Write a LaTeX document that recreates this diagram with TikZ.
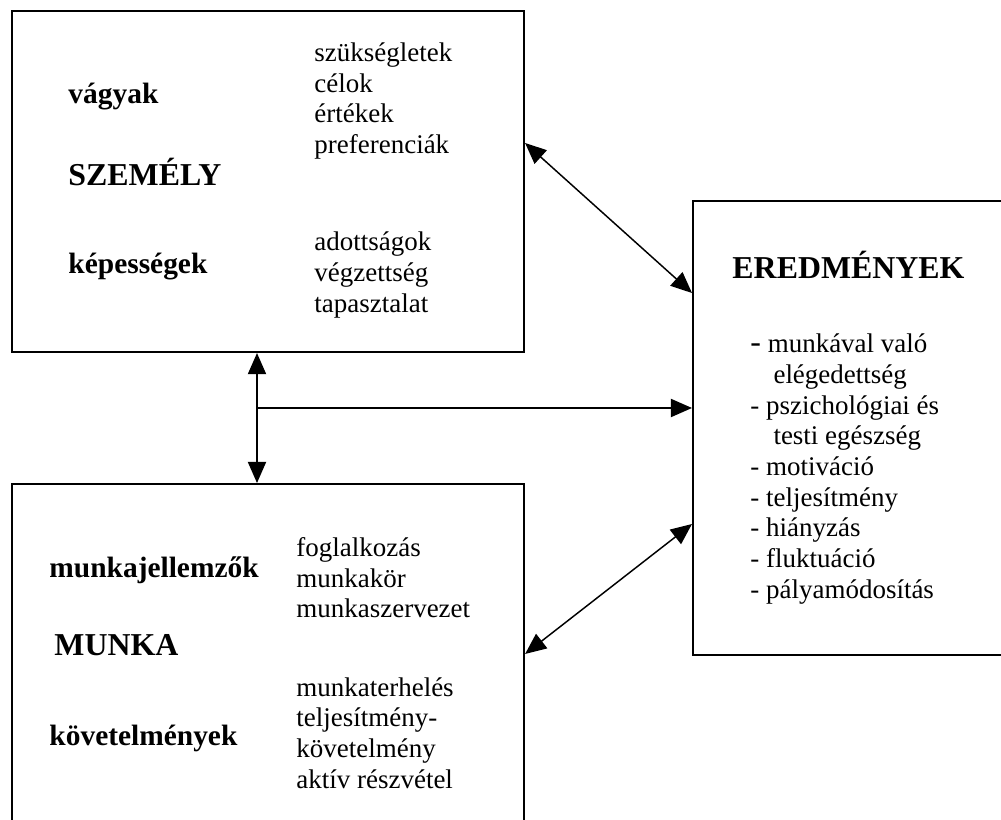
\documentclass[tikz,border=0pt]{standalone}
\usepackage{fontspec}
\setmainfont{Liberation Serif}
\usetikzlibrary{arrows.meta}

\begin{document}
\begin{tikzpicture}[x=0.408pt, y=-0.408pt]
	\tikzset{doboz/.style={draw=black, line width=0.85pt, inner sep=0pt, anchor=north west},
		cimke/.style={font=\fontsize{12}{14}\selectfont\bfseries, inner sep=0pt, anchor=west},
		focim/.style={font=\fontsize{13}{15}\selectfont\bfseries, inner sep=0pt, anchor=west},
		lista/.style={font=\fontsize{11}{12.5}\selectfont, align=left, inner sep=0pt, anchor=west},
		nyil/.style={>={Triangle[length=8.6pt, width=7.4pt]}, line width=0.6pt}};

	\useasboundingbox (0,0) rectangle (1001,820);
	\clip (0,0) rectangle (1001,820);

	% a harom doboz
	\node[doboz, minimum width=512*0.408pt, minimum height=341*0.408pt] (szemely)  at ( 11,  10) {};
	\node[doboz, minimum width=512*0.408pt, minimum height=400*0.408pt] (munka)    at ( 11, 483) {};
	\node[doboz, minimum width=330*0.408pt, minimum height=454*0.408pt] (eredmeny) at (692, 200) {};

	% SZEMELY
	\node[cimke] (vagyak)     at ( 68,  97) {vágyak};
	\node[focim] (szemelyc)   at ( 68, 172) {SZEMÉLY};
	\node[cimke] (kepesseg)   at ( 68, 267) {képességek};
	\node[lista] (igenyek)    at (314, 101) {szükségletek\\célok\\értékek\\preferenciák};
	\node[lista] (adottsag)   at (314, 275) {adottságok\\végzettség\\tapasztalat};

	% MUNKA
	\node[cimke] (jellemzok)  at ( 49, 570) {munkajellemzők};
	\node[focim] (munkac)     at ( 54, 645) {MUNKA};
	\node[cimke] (kovetelm)   at ( 49, 738) {követelmények};
	\node[lista] (foglalk)    at (296, 578) {foglalkozás\\munkakör\\munkaszervezet};
	\node[lista] (terheles)   at (296, 733) {munkaterhelés\\teljesítmény-\\követelmény\\aktív részvétel};

	% EREDMENYEK
	\node[focim] (eredmenyc)  at (732, 265) {EREDMÉNYEK};
	\node[lista] (hatasok)    at (750, 469) {{\fontsize{13}{13}\selectfont -}\ munkával való\\
		\hspace*{9.4pt}elégedettség\\
		- pszichológiai és\\
		\hspace*{9.4pt}testi egészség\\
		- motiváció\\
		- teljesítmény\\
		- hiányzás\\
		- fluktuáció\\
		- pályamódosítás};

	% nyilak
	\coordinate (elagazas) at (257, 408);
	\draw[nyil, <->] (szemely.south -| elagazas) -- (munka.north -| elagazas);
	\draw[nyil, ->] (elagazas) -- (eredmeny.west |- elagazas);
	\draw[nyil, <->] (szemely.east |- 0,143) -- (eredmeny.west |- 0,293);
	\draw[nyil, <->] (munka.east |- 0,654) -- (eredmeny.west |- 0,524);

\end{tikzpicture}
\end{document}
